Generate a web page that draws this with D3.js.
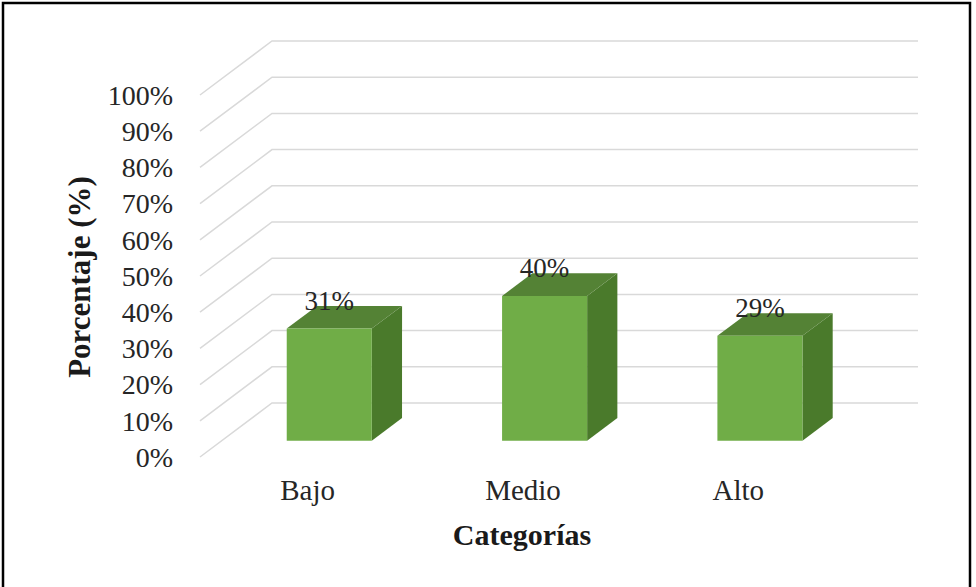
<!DOCTYPE html>
<html>
<head>
<meta charset="utf-8">
<script src="https://cdn.jsdelivr.net/npm/d3@7"></script>
<style>
  html, body { margin: 0; padding: 0; background: #fff; }
  svg { display: block; }
  text { font-family: "Liberation Serif", "Times New Roman", serif; }
</style>
</head>
<body>
<svg id="chart" width="976" height="587"></svg>
<script>
const categories = ["Bajo", "Medio", "Alto"];
const values = [0.31, 0.40, 0.29];
const valueLabels = ["31%", "40%", "29%"];
const tickValues = [0, 0.1, 0.2, 0.3, 0.4, 0.5, 0.6, 0.7, 0.8, 0.9, 1.0];
const yTitle = "Porcentaje (%)";
const xTitle = "Categorías";

const svg = d3.select("#chart");

// frame
svg.append("rect").attr("x", 3).attr("y", 3).attr("width", 967).attr("height", 590)
  .attr("fill", "none").attr("stroke", "#000").attr("stroke-width", 2.5);

// oblique 3D projection
const depthX = 72, depthY = -54;
const frontLeft = 200, frontRight = 846;
const x = d3.scaleBand().domain(categories).range([frontLeft, frontRight])
  .paddingInner(0.605).paddingOuter(0.3025);
const xc = d3.scalePoint().domain(categories).range([frontLeft, frontRight]).padding(0.5);
const y = d3.scaleLinear().domain([0, 1]).range([457, 95]);
const proj = (px, py, d) => [px + depthX * d, py + depthY * d];

// gridlines (side wall diagonal + back wall)
const gridG = svg.append("g");
tickValues.forEach(t => {
  const p0 = proj(frontLeft, y(t), 0);
  const p1 = proj(frontLeft, y(t), 1);
  const p2 = proj(frontRight, y(t), 1);
  gridG.append("path")
    .attr("d", `M${p0[0]},${p0[1]}L${p1[0]},${p1[1]}L${p2[0]},${p2[1]}`)
    .attr("fill", "none").attr("stroke", "#d9d9d9").attr("stroke-width", 1.5);
});

// y tick labels
const yAxisG = svg.append("g");
tickValues.forEach(t => {
  yAxisG.append("text")
    .attr("x", 173).attr("y", y(t))
    .attr("dy", "0.35em")
    .attr("text-anchor", "end")
    .attr("font-size", 28)
    .attr("fill", "#262626")
    .text(d3.format(".0%")(t));
});

// bars
const dFront = 0.3, dBack = 0.72;
const barG = svg.append("g");
const pts = a => a.map(p => p.join(",")).join(" ");
categories.forEach((c, i) => {
  const x0 = x(c), x1 = x(c) + x.bandwidth();
  const yb = y(0), yt = y(values[i]);
  const fbl = proj(x0, yb, dFront), fbr = proj(x1, yb, dFront);
  const ftl = proj(x0, yt, dFront), ftr = proj(x1, yt, dFront);
  const bbr = proj(x1, yb, dBack), btl = proj(x0, yt, dBack), btr = proj(x1, yt, dBack);
  // side
  barG.append("polygon").attr("points", pts([fbr, bbr, btr, ftr])).attr("fill", "#4a7a2b");
  // top
  barG.append("polygon").attr("points", pts([ftl, ftr, btr, btl])).attr("fill", "#548235");
  // front
  barG.append("polygon").attr("points", pts([fbl, fbr, ftr, ftl])).attr("fill", "#70ad47");
  // value label
  barG.append("text")
    .attr("x", (ftl[0] + ftr[0]) / 2).attr("y", ftl[1] - 19)
    .attr("text-anchor", "middle")
    .attr("font-size", 27).attr("fill", "#262626")
    .text(valueLabels[i]);
});

// category labels
categories.forEach(c => {
  svg.append("text")
    .attr("x", xc(c)).attr("y", 500)
    .attr("text-anchor", "middle")
    .attr("font-size", 29).attr("fill", "#262626")
    .text(c);
});

// axis titles
svg.append("text")
  .attr("x", 522).attr("y", 545)
  .attr("text-anchor", "middle")
  .attr("font-size", 30).attr("font-weight", "bold").attr("fill", "#1a1a1a")
  .text(xTitle);

svg.append("text")
  .attr("transform", "translate(90,277) rotate(-90)")
  .attr("text-anchor", "middle")
  .attr("font-size", 31).attr("font-weight", "bold").attr("fill", "#1a1a1a")
  .text(yTitle);
</script>
</body>
</html>
